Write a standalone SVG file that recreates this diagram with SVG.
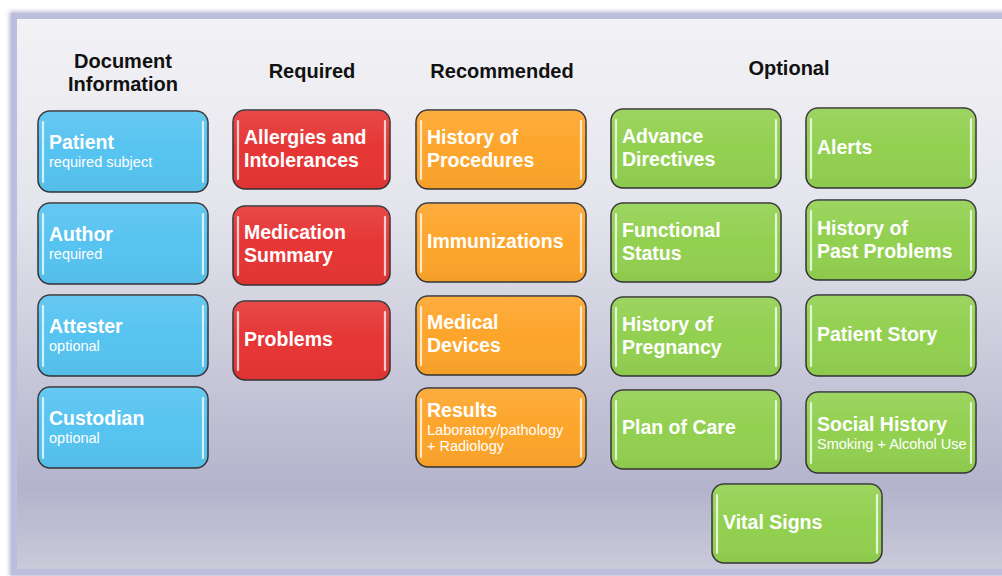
<svg xmlns="http://www.w3.org/2000/svg" width="1002" height="576" viewBox="0 0 1002 576">
<defs>
<linearGradient id="bg" x1="0" y1="0" x2="0" y2="1">
<stop offset="0" stop-color="#f3f3f6"/>
<stop offset="0.35" stop-color="#e4e4ec"/>
<stop offset="0.85" stop-color="#b3b3cc"/>
<stop offset="1" stop-color="#cbcbda"/>
</linearGradient>
<linearGradient id="gl" x1="0" y1="0" x2="0" y2="1">
<stop offset="0" stop-color="#fff" stop-opacity="0.1"/>
<stop offset="0.5" stop-color="#fff" stop-opacity="0"/>
<stop offset="1" stop-color="#000" stop-opacity="0.04"/>
</linearGradient>
<filter id="blur" x="-0.05" y="-0.05" width="1.1" height="1.1"><feGaussianBlur stdDeviation="2"/></filter>
</defs>
<style>
.h{font-family:"Liberation Sans",Arial,sans-serif;font-weight:bold;font-size:20px;fill:#111;text-anchor:middle}
.t{font-family:"Liberation Sans",Arial,sans-serif;font-weight:bold;font-size:19.5px;fill:#fff}
.s{font-family:"Liberation Sans",Arial,sans-serif;font-size:14.5px;fill:#fff}
.b{stroke:#333;stroke-width:1.5}
.blue{fill:#56c3f0}.red{fill:#e63535}.or{fill:#fda52b}.gr{fill:#92d050}
.hl{fill:none;stroke:#fff;stroke-width:2.2;stroke-linecap:round;opacity:0.75}
.gs{fill:url(#gl)}
</style>
<rect x="0" y="0" width="1002" height="576" fill="#fff"/>
<rect x="14" y="16" width="1000" height="556" fill="none" stroke="#b8b8da" stroke-width="9" filter="url(#blur)"/>
<rect x="14" y="16" width="1000" height="556" fill="url(#bg)" stroke="#bdbddc" stroke-width="6"/>
<g id="headings">
<text class="h" x="123" y="68">Document</text>
<text class="h" x="123" y="91">Information</text>
<text class="h" x="312" y="78">Required</text>
<text class="h" x="502" y="78">Recommended</text>
<text class="h" x="789" y="75">Optional</text>
</g>
<g id="patient"><rect class="b blue" x="38" y="111" width="170" height="81" rx="12"/><rect class="gs" x="38" y="111" width="170" height="81" rx="12"/><path class="hl" d="M43 122V182M203 122V182"/><text class="t" x="49" y="149">Patient</text><text class="s" x="49" y="167">required subject</text></g>
<g id="author"><rect class="b blue" x="38" y="203" width="170" height="81" rx="12"/><rect class="gs" x="38" y="203" width="170" height="81" rx="12"/><path class="hl" d="M43 214V274M203 214V274"/><text class="t" x="49" y="241">Author</text><text class="s" x="49" y="259">required</text></g>
<g id="attester"><rect class="b blue" x="38" y="295" width="170" height="81" rx="12"/><rect class="gs" x="38" y="295" width="170" height="81" rx="12"/><path class="hl" d="M43 306V366M203 306V366"/><text class="t" x="49" y="333">Attester</text><text class="s" x="49" y="351">optional</text></g>
<g id="custodian"><rect class="b blue" x="38" y="387" width="170" height="81" rx="12"/><rect class="gs" x="38" y="387" width="170" height="81" rx="12"/><path class="hl" d="M43 398V458M203 398V458"/><text class="t" x="49" y="425">Custodian</text><text class="s" x="49" y="443">optional</text></g>

<g id="allergies"><rect class="b red" x="233" y="110" width="157" height="79" rx="12"/><rect class="gs" x="233" y="110" width="157" height="79" rx="12"/><path class="hl" d="M238 121V179M385 121V179"/><text class="t" x="244" y="144">Allergies and</text><text class="t" x="244" y="167">Intolerances</text></g>
<g id="medication"><rect class="b red" x="233" y="206" width="157" height="79" rx="12"/><rect class="gs" x="233" y="206" width="157" height="79" rx="12"/><path class="hl" d="M238 217V275M385 217V275"/><text class="t" x="244" y="239">Medication</text><text class="t" x="244" y="262">Summary</text></g>
<g id="problems"><rect class="b red" x="233" y="301" width="157" height="79" rx="12"/><rect class="gs" x="233" y="301" width="157" height="79" rx="12"/><path class="hl" d="M238 312V370M385 312V370"/><text class="t" x="244" y="346">Problems</text></g>

<g id="procedures"><rect class="b or" x="416" y="110" width="170" height="79" rx="12"/><rect class="gs" x="416" y="110" width="170" height="79" rx="12"/><path class="hl" d="M421 121V179M581 121V179"/><text class="t" x="427" y="144">History of</text><text class="t" x="427" y="167">Procedures</text></g>
<g id="immunizations"><rect class="b or" x="416" y="203" width="170" height="79" rx="12"/><rect class="gs" x="416" y="203" width="170" height="79" rx="12"/><path class="hl" d="M421 214V272M581 214V272"/><text class="t" x="427" y="248">Immunizations</text></g>
<g id="devices"><rect class="b or" x="416" y="296" width="170" height="79" rx="12"/><rect class="gs" x="416" y="296" width="170" height="79" rx="12"/><path class="hl" d="M421 307V365M581 307V365"/><text class="t" x="427" y="329">Medical</text><text class="t" x="427" y="352">Devices</text></g>
<g id="results"><rect class="b or" x="416" y="388" width="170" height="79" rx="12"/><rect class="gs" x="416" y="388" width="170" height="79" rx="12"/><path class="hl" d="M421 399V457M581 399V457"/><text class="t" x="427" y="417">Results</text><text class="s" x="427" y="435">Laboratory/pathology</text><text class="s" x="427" y="451">+ Radiology</text></g>

<g id="advance"><rect class="b gr" x="611" y="109" width="170" height="79" rx="12"/><rect class="gs" x="611" y="109" width="170" height="79" rx="12"/><path class="hl" d="M616 120V178M776 120V178"/><text class="t" x="622" y="143">Advance</text><text class="t" x="622" y="166">Directives</text></g>
<g id="functional"><rect class="b gr" x="611" y="203" width="170" height="79" rx="12"/><rect class="gs" x="611" y="203" width="170" height="79" rx="12"/><path class="hl" d="M616 214V272M776 214V272"/><text class="t" x="622" y="237">Functional</text><text class="t" x="622" y="260">Status</text></g>
<g id="pregnancy"><rect class="b gr" x="611" y="297" width="170" height="79" rx="12"/><rect class="gs" x="611" y="297" width="170" height="79" rx="12"/><path class="hl" d="M616 308V366M776 308V366"/><text class="t" x="622" y="331">History of</text><text class="t" x="622" y="354">Pregnancy</text></g>
<g id="plan"><rect class="b gr" x="611" y="390" width="170" height="79" rx="12"/><rect class="gs" x="611" y="390" width="170" height="79" rx="12"/><path class="hl" d="M616 401V459M776 401V459"/><text class="t" x="622" y="434">Plan of Care</text></g>

<g id="alerts"><rect class="b gr" x="806" y="108" width="170" height="80" rx="12"/><rect class="gs" x="806" y="108" width="170" height="80" rx="12"/><path class="hl" d="M811 119V178M971 119V178"/><text class="t" x="817" y="154">Alerts</text></g>
<g id="pastproblems"><rect class="b gr" x="806" y="200" width="170" height="80" rx="12"/><rect class="gs" x="806" y="200" width="170" height="80" rx="12"/><path class="hl" d="M811 211V270M971 211V270"/><text class="t" x="817" y="235">History of</text><text class="t" x="817" y="258">Past Problems</text></g>
<g id="story"><rect class="b gr" x="806" y="295" width="170" height="81" rx="12"/><rect class="gs" x="806" y="295" width="170" height="81" rx="12"/><path class="hl" d="M811 306V366M971 306V366"/><text class="t" x="817" y="341">Patient Story</text></g>
<g id="social"><rect class="b gr" x="806" y="392" width="170" height="81" rx="12"/><rect class="gs" x="806" y="392" width="170" height="81" rx="12"/><path class="hl" d="M811 403V463M971 403V463"/><text class="t" x="817" y="431">Social History</text><text class="s" x="817" y="449">Smoking + Alcohol Use</text></g>
<g id="vital"><rect class="b gr" x="712" y="484" width="170" height="79" rx="12"/><rect class="gs" x="712" y="484" width="170" height="79" rx="12"/><path class="hl" d="M717 495V553M877 495V553"/><text class="t" x="723" y="529">Vital Signs</text></g>
<g id="connectors"></g>
</svg>
